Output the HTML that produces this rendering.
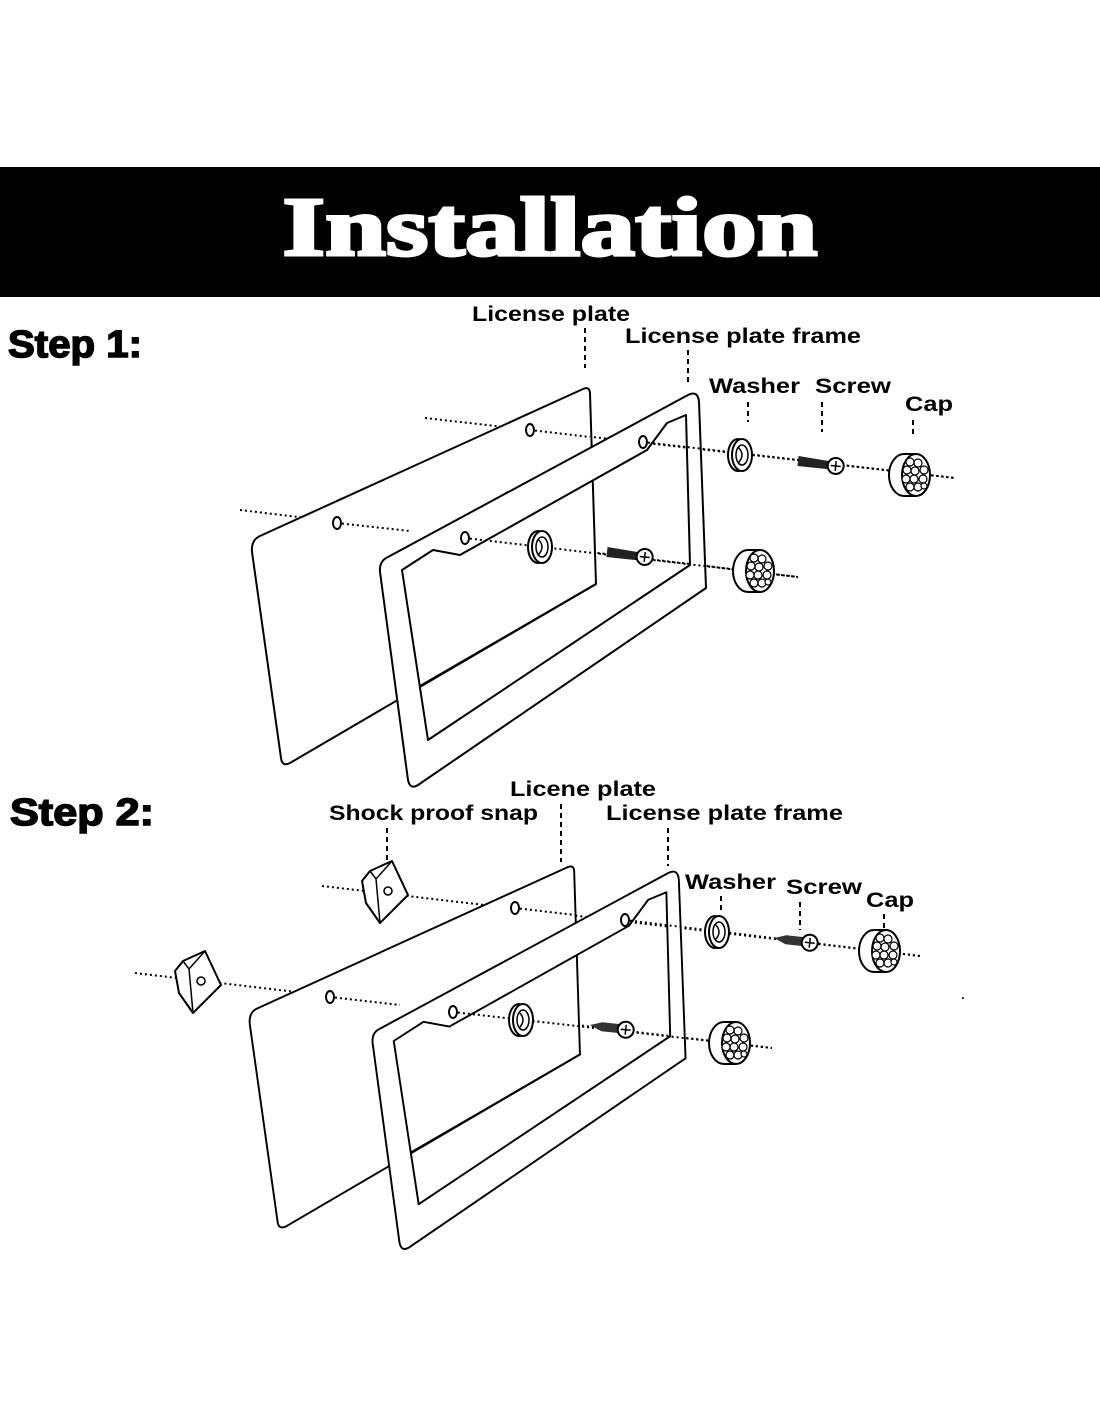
<!DOCTYPE html>
<html><head><meta charset="utf-8"><style>html,body{margin:0;padding:0;background:#fff}svg{display:block}</style></head>
<body>
<svg width="1100" height="1422" viewBox="0 0 1100 1422" xmlns="http://www.w3.org/2000/svg">
<defs>
<g id="plates">
  <path d="M260,536 L583,389 Q590,386 590,394 L596,584 L290,763 Q282,767 281,758 L252,552 Q251,540 260,536 Z" fill="#fff" stroke="#000" stroke-width="2"/>
  <path fill-rule="evenodd" d="M388,557 L688,395 Q698,390 699,402 L706,588 L418,785 Q410,790 408,780 L380,572 Q379,561 388,557 Z M402,570 L433,550 L460,555 L647,450 L667,423 L686,415 L690,565 L428,740 Z" fill="#fff" stroke="#000" stroke-width="2" stroke-linejoin="round"/>
  <line x1="420" y1="686" x2="596" y2="584" stroke="#000" stroke-width="2"/>
</g>
<g id="cap">
  <ellipse cx="-6" cy="0" rx="15" ry="21" fill="#fff" stroke="#000" stroke-width="2"/>
  <rect x="-6" y="-21" width="12" height="42" fill="#fff"/>
  <line x1="-6" y1="-21" x2="6" y2="-21" stroke="#000" stroke-width="2"/>
  <line x1="-6" y1="21" x2="6" y2="21" stroke="#000" stroke-width="2"/>
  <ellipse cx="6" cy="0" rx="14" ry="21" fill="#fff" stroke="#000" stroke-width="2"/>
  <g fill="#fff" stroke="#000" stroke-width="1.2">
    <circle cx="0" cy="-13" r="4"/><circle cx="8" cy="-12" r="4"/><circle cx="14" cy="-5" r="4"/>
    <circle cx="-3" cy="-5" r="4"/><circle cx="5" cy="-4" r="4"/><circle cx="-4" cy="4" r="4"/>
    <circle cx="4" cy="4" r="4"/><circle cx="13" cy="4" r="4"/><circle cx="0" cy="12" r="4"/>
    <circle cx="8" cy="12" r="4"/><circle cx="14" cy="11" r="3"/>
  </g>
</g>
<g id="washer">
  <ellipse cx="0" cy="0" rx="10" ry="16" fill="#fff" stroke="#000" stroke-width="2"/>
  <ellipse cx="4" cy="0" rx="10" ry="16" fill="#fff" stroke="#000" stroke-width="2"/>
  <ellipse cx="4" cy="0" rx="6" ry="10" fill="#fff" stroke="#000" stroke-width="1.5"/>
  <path d="M0,-8 Q8,0 0,8" fill="none" stroke="#000" stroke-width="1.5"/>
</g>
<g id="screw">
  <path d="M0,-5 L34,-3 L34,5 L0,5 Z" fill="#222"/>
  <circle cx="38" cy="1" r="8" fill="#fff" stroke="#000" stroke-width="2"/>
  <line x1="33" y1="1" x2="43" y2="1" stroke="#000" stroke-width="1.5"/>
  <line x1="38" y1="-4" x2="38" y2="6" stroke="#000" stroke-width="1.5"/>
</g>
<g id="screw2">
  <path d="M0,0 L12,-4 L32,-4 L32,5 L12,5 Z" fill="#333"/>
  <circle cx="36" cy="1" r="8" fill="#fff" stroke="#000" stroke-width="2"/>
  <line x1="31" y1="1" x2="41" y2="1" stroke="#000" stroke-width="1.5"/>
  <line x1="36" y1="-4" x2="36" y2="6" stroke="#000" stroke-width="1.5"/>
</g>
<g id="snap">
  <path d="M-18,-12 L-10,-22 L12,-32 L28,2 L0,30 L-14,10 Z" fill="#fff" stroke="#000" stroke-width="2" stroke-linejoin="round"/>
  <path d="M-10,-22 L-4,-14 L12,-32 M-4,-14 L0,30 M-18,-12 L-14,10" fill="none" stroke="#000" stroke-width="1.5"/>
  <circle cx="8" cy="-2" r="4" fill="#fff" stroke="#000" stroke-width="1.5"/>
</g>
</defs>

<rect x="0" y="167" width="1100" height="130" fill="#000"/>
<text x="550" y="255" text-anchor="middle" font-family="Liberation Serif, serif" font-weight="bold" font-size="84" fill="#fff" stroke="#fff" stroke-width="3" textLength="535" lengthAdjust="spacingAndGlyphs">Installation</text>

<g font-family="Liberation Sans, sans-serif" font-weight="bold" fill="#000">
<text x="8" y="357" font-size="38" stroke="#000" stroke-width="1.5" textLength="134" lengthAdjust="spacingAndGlyphs">Step 1:</text>
<text x="10" y="825" font-size="38" stroke="#000" stroke-width="1.5" textLength="144" lengthAdjust="spacingAndGlyphs">Step 2:</text>
<g font-size="21">
<text x="472" y="321" textLength="158" lengthAdjust="spacingAndGlyphs">License plate</text>
<text x="625" y="343" textLength="236" lengthAdjust="spacingAndGlyphs">License plate frame</text>
<text x="709" y="393" textLength="91" lengthAdjust="spacingAndGlyphs">Washer</text>
<text x="815" y="393" textLength="76" lengthAdjust="spacingAndGlyphs">Screw</text>
<text x="905" y="411" textLength="48" lengthAdjust="spacingAndGlyphs">Cap</text>
<text x="510" y="796" textLength="146" lengthAdjust="spacingAndGlyphs">Licene plate</text>
<text x="329" y="820" textLength="209" lengthAdjust="spacingAndGlyphs">Shock proof snap</text>
<text x="606" y="820" textLength="237" lengthAdjust="spacingAndGlyphs">License plate frame</text>
<text x="685" y="889" textLength="91" lengthAdjust="spacingAndGlyphs">Washer</text>
<text x="786" y="894" textLength="76" lengthAdjust="spacingAndGlyphs">Screw</text>
<text x="866" y="907" textLength="48" lengthAdjust="spacingAndGlyphs">Cap</text>
</g>
</g>

<g stroke="#000" stroke-width="2" stroke-dasharray="5,4" fill="none">
<line x1="585" y1="328" x2="585" y2="368"/>
<line x1="688" y1="350" x2="688" y2="383"/>
<line x1="748" y1="402" x2="748" y2="422"/>
<line x1="822" y1="402" x2="822" y2="432"/>
<line x1="913" y1="420" x2="913" y2="436"/>
<line x1="561" y1="804" x2="561" y2="862"/>
<line x1="387" y1="828" x2="387" y2="862"/>
<line x1="668" y1="828" x2="668" y2="866"/>
<line x1="721" y1="896" x2="721" y2="912"/>
<line x1="800" y1="902" x2="800" y2="930"/>
<line x1="884" y1="914" x2="884" y2="930"/>
</g>

<!-- Step 1 -->
<g stroke="#000" stroke-width="2" stroke-dasharray="2,3" fill="none">
<line x1="425" y1="418" x2="955" y2="478"/>
<line x1="240" y1="510" x2="798" y2="577"/>
</g>
<use href="#plates"/>
<g stroke="#000" stroke-width="2" stroke-dasharray="2,3" fill="none">
<line x1="530" y1="430" x2="590" y2="437"/>
<line x1="643" y1="442" x2="955" y2="478"/>
<line x1="337" y1="523" x2="410" y2="531"/>
<line x1="465" y1="538" x2="798" y2="577"/>
</g>
<g fill="#fff" stroke="#000" stroke-width="2">
<ellipse cx="530" cy="430" rx="4" ry="6"/><ellipse cx="337" cy="523" rx="4" ry="6"/>
<ellipse cx="643" cy="442" rx="4" ry="6"/><ellipse cx="465" cy="538" rx="4" ry="6"/>
</g>
<use href="#washer" x="738" y="455"/>
<use href="#washer" x="538" y="547"/>
<use href="#screw" transform="translate(798,461) rotate(6)"/>
<use href="#screw" transform="translate(607,552) rotate(6)"/>
<use href="#cap" x="910" y="475"/>
<use href="#cap" x="754" y="571"/>

<!-- Step 2 -->
<g stroke="#000" stroke-width="2" stroke-dasharray="2,3" fill="none">
<line x1="322" y1="886" x2="920" y2="956"/>
<line x1="135" y1="973" x2="772" y2="1048"/>
</g>
<use href="#snap" x="380" y="893"/>
<use href="#snap" x="193" y="983"/>
<g transform="translate(675,873) scale(0.96) translate(-695,-395)">
<use href="#plates"/>
</g>
<g stroke="#000" stroke-width="2" stroke-dasharray="2,3" fill="none">
<line x1="515" y1="908" x2="575" y2="915"/>
<line x1="625" y1="920" x2="920" y2="956"/>
<line x1="330" y1="997" x2="400" y2="1005"/>
<line x1="453" y1="1012" x2="772" y2="1048"/>
</g>
<g fill="#fff" stroke="#000" stroke-width="2">
<ellipse cx="515" cy="908" rx="4" ry="6"/><ellipse cx="330" cy="997" rx="4" ry="6"/>
<ellipse cx="625" cy="920" rx="4" ry="6"/><ellipse cx="453" cy="1012" rx="4" ry="6"/>
</g>
<use href="#washer" x="715" y="932"/>
<use href="#washer" x="519" y="1020"/>
<use href="#screw2" transform="translate(774,938) rotate(6)"/>
<use href="#screw2" transform="translate(590,1025) rotate(6)"/>
<use href="#cap" x="880" y="951"/>
<use href="#cap" x="730" y="1043"/>
<circle cx="963" cy="998" r="1" fill="#000"/>
</svg>
</body></html>
